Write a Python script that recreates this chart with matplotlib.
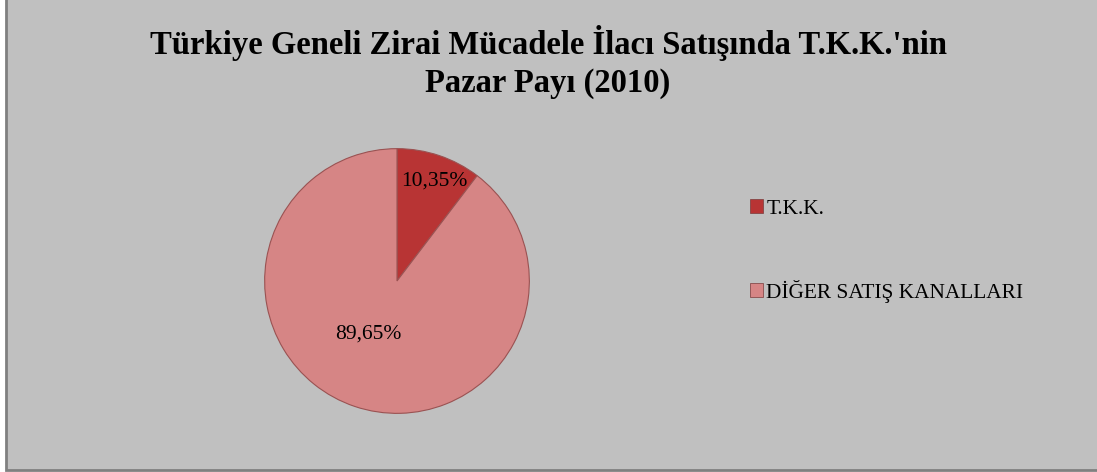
import matplotlib.pyplot as plt
import matplotlib.patches as mpatches
import numpy as np

# pazar payı verisi (%)
labels = ['T.K.K.', 'DİĞER SATIŞ KANALLARI']
shares = [10.35, 89.65]
pct_text = ['10,35%', '89,65%']
colors = ['#B83434', '#D68585']

plt.rcParams['font.family'] = ['Liberation Serif', 'DejaVu Serif']

W, H = 1097, 472
fig = plt.figure(figsize=(W / 100, H / 100), dpi=100, facecolor='white')

# gri çerçeve
bg = mpatches.Rectangle((6 / W, 2 / H), 1 - 6 / W + 0.01, 1, transform=fig.transFigure,
                        facecolor='#C0C0C0', edgecolor='#808080', linewidth=2, zorder=-5)
fig.patches.append(bg)

fig.text(548 / W, 1 - 62 / H, "Türkiye Geneli Zirai Mücadele İlacı Satışında T.K.K.'nin\nPazar Payı (2010)",
         ha='center', va='center', fontsize=23.5, fontweight='bold', linespacing=1.25)

cx, cy, r = 397, 281, 135
ax = fig.add_axes([(cx - r) / W, (H - cy - r) / H, 2 * r / W, 2 * r / H])
wedges, _ = ax.pie(shares, colors=colors, startangle=90, counterclock=False, radius=1,
                   wedgeprops=dict(edgecolor='#9A5252', linewidth=0.8))
ax.set_xlim(-1.02, 1.02)
ax.set_ylim(-1.02, 1.02)
ax.set_aspect('equal')
ax.axis('off')

# yüzde etiketleri
dists = [0.8, 0.42]
for w, t, d, dx in zip(wedges, pct_text, dists, [0.03, -0.08]):
    ang = np.deg2rad((w.theta1 + w.theta2) / 2)
    ax.text(d * np.cos(ang) + dx, d * np.sin(ang), t, ha='center', va='center', fontsize=15.5)

handles = [mpatches.Patch(facecolor=c, edgecolor='#7A3A3A', linewidth=0.5) for c in colors]
fig.legend(handles, labels, loc='upper left', bbox_to_anchor=(731 / W, 1 - 180 / H),
           frameon=False, fontsize=15.4, handlelength=0.6, handleheight=0.6,
           handletextpad=0.15, labelspacing=2.85)

fig.savefig('out.png', dpi=100, facecolor='white')
